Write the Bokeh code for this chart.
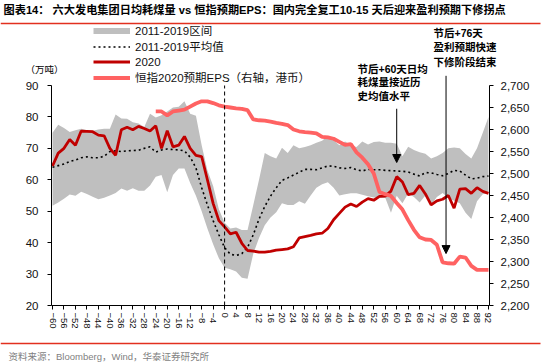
from bokeh.plotting import figure
from bokeh.models import (Range1d, LinearAxis, Label, Arrow, NormalHead, Legend,
                          LegendItem, FixedTicker, NumeralTickFormatter)
from bokeh.embed import file_html
from bokeh.resources import INLINE

# ---------------- data ----------------
days = list(range(-60, 93, 2))

coal_2020 = [64.4, 68.5, 70.0, 72.8, 71.0, 75.5, 75.4, 75.3, 74.2, 74.0,
             70.0, 67.8, 75.9, 76.7, 75.9, 77.0, 76.3, 75.5, 77.2, 70.0,
             75.6, 70.5, 71.0, 73.8, 70.0, 67.8, 67.4, 60.0, 52.5, 47.0,
             45.0, 42.8, 43.3, 39.8, 37.5, 37.3, 37.0, 37.0, 37.2, 37.6,
             37.8, 38.0, 38.7, 41.5, 41.9, 42.3, 42.8, 43.0, 44.5, 47.3,
             49.3, 51.3, 52.3, 51.5, 52.9, 54.0, 53.5, 54.7, 54.8, 56.4,
             61.0, 59.3, 55.3, 55.7, 58.2, 55.5, 52.0, 53.3, 53.8, 55.0,
             51.0, 57.0, 57.2, 55.7, 57.5, 56.3, 55.7]

coal_avg = [64.0, 64.5, 65.0, 65.8, 66.3, 67.0, 67.3, 67.0, 67.0, 67.5,
            69.0, 69.2, 69.0, 69.2, 69.3, 69.4, 70.0, 70.5, 68.8, 69.5,
            69.8, 69.6, 69.5, 69.2, 67.2, 63.8, 57.5, 52.0, 47.0, 42.5,
            38.4, 36.3, 35.9, 36.5, 38.5, 42.5, 47.5, 51.5, 54.8, 57.5,
            59.8, 60.6, 61.5, 62.4, 63.3, 63.3, 63.2, 63.8, 64.4, 64.3,
            63.8, 63.6, 63.9, 63.2, 62.8, 63.3, 63.2, 63.2, 63.0, 62.9,
            62.8, 62.7, 62.5, 61.8, 61.2, 62.3, 62.2, 61.7, 61.3, 62.0,
            63.0, 62.8, 61.5, 60.3, 60.5, 61.0, 61.2]

band_upper = [75.0, 77.5, 76.5, 75.2, 75.8, 76.2, 75.8, 75.6, 76.0, 76.2,
              76.2, 80.8, 79.5, 79.4, 78.3, 77.9, 76.8, 81.0, 79.8, 80.5,
              81.7, 83.0, 83.2, 85.0, 81.0, 80.4, 71.0, 63.0, 58.0, 50.6,
              46.3, 44.5, 44.8, 44.0, 44.0, 52.0, 60.0, 68.5, 67.5, 66.8,
              70.2, 68.5, 71.0, 70.0, 70.4, 71.0, 71.8, 72.4, 74.0, 72.6,
              71.0, 72.2, 71.0, 70.4, 72.2, 71.2, 72.0, 72.2, 71.8, 71.8,
              71.5, 67.5, 70.5, 69.5, 68.8, 68.3, 66.8, 67.5, 68.5, 70.0,
              70.3, 70.0, 68.2, 66.8, 70.0, 75.0, 80.0]

band_lower = [51.7, 52.8, 54.0, 55.3, 54.9, 56.2, 55.5, 54.6, 53.8, 54.3,
              55.0, 55.8, 57.2, 56.5, 57.3, 56.5, 56.5, 58.2, 61.0, 61.5,
              56.0, 61.5, 63.6, 63.6, 59.0, 54.9, 50.0, 44.5, 39.5, 35.0,
              32.0, 31.5, 30.8, 28.8, 28.5, 36.5, 41.5, 45.5, 48.0, 49.7,
              52.5, 52.0, 52.0, 53.2, 52.4, 55.0, 57.5, 58.6, 59.2, 57.5,
              55.0, 55.4, 55.7, 55.7, 55.2, 54.8, 54.4, 54.3, 54.3, 49.5,
              54.9, 52.5, 55.6, 54.5, 52.8, 55.0, 52.0, 54.5, 55.8, 54.2,
              53.3, 52.5, 49.5, 47.5, 53.2, 55.4, 55.9]

eps_days = list(range(-24, 93, 2))
eps_2020 = [2641, 2641, 2632, 2641, 2643, 2645, 2652, 2659, 2664, 2664,
            2660, 2655, 2652, 2650, 2648, 2647, 2644, 2623, 2621, 2620,
            2618, 2615, 2613, 2610, 2600, 2596, 2594, 2593, 2591, 2583,
            2582, 2579, 2572, 2565, 2567, 2548, 2536, 2521, 2500, 2458,
            2453, 2449, 2433, 2418, 2394, 2372, 2355, 2350, 2349, 2338,
            2298, 2296, 2295, 2311, 2309, 2290, 2281, 2281, 2281]

x_ticks = list(range(-60, 93, 4))
left_ticks = [20, 30, 40, 50, 60, 70, 80, 90]
right_ticks = [2200, 2250, 2300, 2350, 2400, 2450, 2500, 2550, 2600, 2650, 2700]

title_text = "图表14： 六大发电集团日均耗煤量 vs 恒指预期EPS：国内完全复工10-15 天后迎来盈利预期下修拐点"
source_text = "资料来源：Bloomberg，Wind，华泰证券研究所"
unit_text = "（万吨）"
note1 = ["节后+60天日均", "耗煤量接近历", "史均值水平"]
note2 = ["节后+76天", "盈利预期快速", "下修阶段结束"]
note1_day, note1_from, note1_tip = 60, 82.6, 65.5
note2_day, note2_from, note2_tip = 77.2, 2722, 2318
legend_labels = ["2011-2019区间", "2011-2019平均值", "2020", "恒指2020预期EPS（右轴，港币）"]

# ---------------- styles / geometry ----------------
C_BAND = "#bfbfbf"
C_2020 = "#c00000"
C_EPS = "#ff6262"
C_RULE = "#e2301f"
NUM_FONT = "Liberation Sans"
CJK_FONT = "Liberation Sans, Noto Sans CJK SC"

W, H = 550, 363
# pixel geometry of the plotting area inside the canvas
PX_L, PX_R, PX_T, PX_B = 51, 489, 85, 305
X0, X1 = -60.35, 92.35
Y0, Y1 = 20.0, 90.0
E0, E1 = 2200.0, 2700.0

xs = (X1 - X0) / (PX_R - PX_L)
ys = (Y1 - Y0) / (PX_B - PX_T)
es = (E1 - E0) / (PX_B - PX_T)


def px_to_x(px):
    return X0 + (px - PX_L) * xs


def py_to_y(py):
    return Y1 + (PX_T - py) * ys


p = figure(width=W, height=H, output_backend="svg", toolbar_location=None,
           title=None,
           x_range=Range1d(px_to_x(0), px_to_x(W)),
           y_range=Range1d(py_to_y(H), py_to_y(0)),
           min_border=0, min_border_left=0, min_border_right=0,
           min_border_top=0, min_border_bottom=0)
p.extra_y_ranges = {"eps": Range1d(E0 - (H - PX_B) * es, E1 + PX_T * es)}
p.outline_line_color = None
p.grid.visible = False
p.background_fill_color = "white"
p.border_fill_color = "white"

xaxis = p.xaxis[0]
yaxis = p.yaxis[0]
right = LinearAxis(y_range_name="eps")
p.add_layout(right, "right")

xaxis.fixed_location = Y0
xaxis.bounds = (X0, X1)
yaxis.fixed_location = X0
yaxis.bounds = (Y0, Y1)
right.fixed_location = X1
right.bounds = (E0, E1)

for ax in [xaxis, yaxis, right]:
    ax.axis_line_color = "#000000"
    ax.axis_line_width = 1
    ax.major_tick_line_color = "#000000"
    ax.minor_tick_line_color = None
    ax.major_tick_in = 0
    ax.major_tick_out = 4
    ax.major_label_text_font = NUM_FONT
    ax.major_label_text_color = "#111111"

xaxis.ticker = FixedTicker(ticks=x_ticks)
xaxis.major_label_orientation = "vertical"
xaxis.major_label_text_font_size = "9.5px"
xaxis.major_label_standoff = 3

yaxis.ticker = FixedTicker(ticks=left_ticks)
yaxis.major_label_text_font_size = "11.5px"
yaxis.major_label_standoff = 9

right.ticker = FixedTicker(ticks=right_ticks)
right.formatter = NumeralTickFormatter(format="0,0")
right.major_label_text_font_size = "11.5px"
right.major_label_standoff = 7

# ---------------- glyphs ----------------
p.varea(x=days, y1=band_lower, y2=band_upper, fill_color=C_BAND, fill_alpha=1)
p.line(days, coal_avg, line_color="#000000", line_width=1.6, line_dash="2 3")
p.line(days, coal_2020, line_color=C_2020, line_width=2.8)
p.line(eps_days, eps_2020, y_range_name="eps", line_color=C_EPS, line_width=3.8)

# reference line at day 0 spanning the axis extent
p.segment(x0=[0], y0=[left_ticks[0]], x1=[0], y1=[left_ticks[-1]],
          line_color="#000000", line_dash="4 3", line_width=1)

# decorative red rules (title / footer separators)
rule_rows = [23, 343]
p.segment(x0=[px_to_x(0)] * 2, x1=[px_to_x(540)] * 2,
          y0=[py_to_y(r) for r in rule_rows], y1=[py_to_y(r) for r in rule_rows],
          line_color=C_RULE, line_width=1.5)

# legend with placeholder renderers (one NaN point each, nothing drawn in the plot)
nan = float("nan")
r_band = p.line(x=[nan], y=[nan], line_color=C_BAND, line_width=6)
r_avg = p.line(x=[nan], y=[nan], line_color="#000000", line_width=1.6, line_dash="2 3")
r_2020 = p.line(x=[nan], y=[nan], line_color=C_2020, line_width=2.8)
r_eps = p.line(x=[nan], y=[nan], line_color=C_EPS, line_width=3.8)
legend = Legend(items=[LegendItem(label=legend_labels[0], renderers=[r_band]),
                       LegendItem(label=legend_labels[1], renderers=[r_avg]),
                       LegendItem(label=legend_labels[2], renderers=[r_2020]),
                       LegendItem(label=legend_labels[3], renderers=[r_eps])],
                location=(93, H - 85), padding=0, margin=0, spacing=0,
                glyph_width=37, glyph_height=15, label_height=15, label_standoff=5,
                border_line_color=None, background_fill_alpha=0,
                label_text_font=CJK_FONT, label_text_font_size="11.5px",
                label_text_color="#111111")
p.add_layout(legend)

# ---------------- texts (page pixel positions) ----------------
def lab(px, py, text, size, color="#000000", bold=False, font=CJK_FONT):
    p.add_layout(Label(x=px, y=H - py, x_units="screen", y_units="screen", text=text,
                       text_font=font, text_font_size=size, text_color=color,
                       text_font_style="bold" if bold else "normal",
                       text_baseline="middle", text_align="left"))

lab(3, 9, title_text, "11.2px", bold=True)
lab(25, 68, unit_text, "9.5px", font="Noto Sans CJK SC")
for i, t in enumerate(note1):
    lab(357, 68 + i * 13.5, t, "10.5px", bold=True)
for i, t in enumerate(note2):
    lab(433, 32 + i * 14.5, t, "10.5px", bold=True)
lab(8, 356, source_text, "9.5px", color="#7f7f7f")

# annotation arrows
p.add_layout(Arrow(end=NormalHead(size=8, fill_color="black", line_color="black"),
                   x_start=note1_day, y_start=note1_from, x_end=note1_day, y_end=note1_tip,
                   line_color="black", line_width=1))
p.add_layout(Arrow(end=NormalHead(size=8, fill_color="black", line_color="black"),
                   x_start=note2_day, y_start=note2_from, x_end=note2_day, y_end=note2_tip,
                   y_range_name="eps", line_color="black", line_width=1))

open("out.html", "w").write(file_html(p, INLINE))
